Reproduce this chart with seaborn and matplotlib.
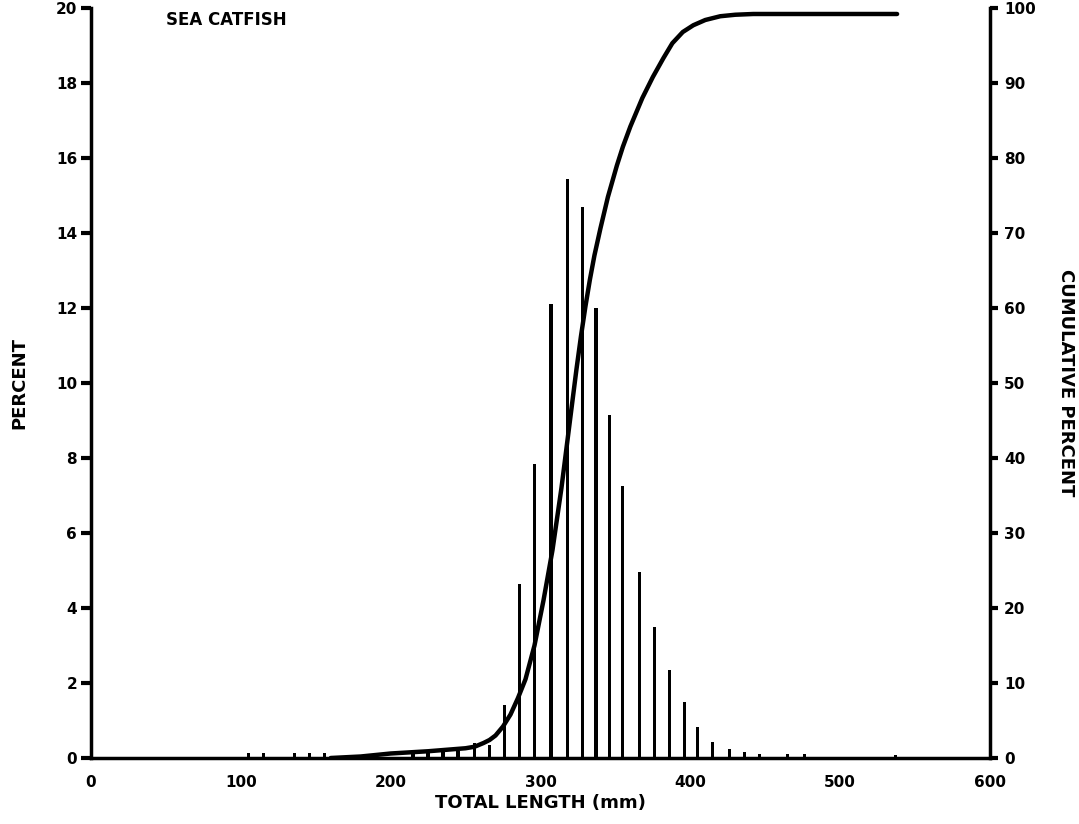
import numpy as np
import pandas as pd
import matplotlib
matplotlib.use("Agg")
import matplotlib.pyplot as plt
import seaborn as sns

# Length-frequency bars (total length mm, percent)
lengths = [105, 115, 136, 146, 156, 215, 225, 235, 245, 256, 266, 276, 286, 296,
           307, 318, 328, 337, 346, 355, 366, 376, 386, 396, 405, 415, 426,
           436, 446, 465, 476, 537]
percent = [0.12, 0.12, 0.12, 0.12, 0.12, 0.1, 0.12, 0.15, 0.18, 0.4, 0.35, 1.4, 4.65, 7.85,
           12.1, 15.45, 14.7, 12.0, 9.15, 7.25, 4.95, 3.5, 2.35, 1.5, 0.82, 0.42, 0.25,
           0.15, 0.1, 0.1, 0.1, 0.08]

# Cumulative percent curve
cum_len = [160, 180, 200, 225, 250, 256, 262, 266, 270, 275, 280, 285, 290, 296,
           302, 308, 314, 320, 324, 327, 330, 333, 336, 340, 345, 351, 355, 360, 368, 375,
           382, 388, 395, 402, 410, 420, 430, 442, 538]
cum_pct = [0.0, 0.2, 0.6, 0.9, 1.3, 1.5, 2.0, 2.4, 3.0, 4.2, 5.8, 8.0, 10.5, 15.0,
           21.0, 27.7, 36.0, 45.5, 51.8, 56.2, 60.2, 63.8, 67.0, 70.6, 74.8, 79.0, 81.5, 84.2, 88.0, 90.8,
           93.3, 95.3, 96.8, 97.7, 98.4, 98.9, 99.1, 99.2, 99.2]

x_ticks = [0, 100, 200, 300, 400, 500, 600]
left_ticks = [0, 2, 4, 6, 8, 10, 12, 14, 16, 18, 20]
right_ticks = [0, 10, 20, 30, 40, 50, 60, 70, 80, 90, 100]

sns.set_style("white")
plt.rcParams['font.family'] = ['DejaVu Sans']
plt.rcParams['font.weight'] = 'bold'
for k in ('text.color', 'axes.labelcolor', 'xtick.color', 'ytick.color'):
    plt.rcParams[k] = 'black'

fig = plt.figure(figsize=(10.79, 8.24), dpi=100)
ax = fig.add_axes([0.0843, 0.0801, 0.8332, 0.9102])

bars = pd.DataFrame({"length": lengths, "percent": percent})
sns.barplot(data=bars, x="length", y="percent", native_scale=True, color="black",
            width=0.24, ax=ax, edgecolor="black", linewidth=0.0, saturation=1)

ax.set_xlim(0, 600)
ax.set_ylim(0, 20)
ax.set_xticks(x_ticks)
ax.set_yticks(left_ticks)
ax.set_xticklabels([str(t) for t in x_ticks], fontsize=11, fontweight='bold')
ax.set_yticklabels([str(t) for t in left_ticks], fontsize=11, fontweight='bold')
ax.set_xlabel("TOTAL LENGTH (mm)", fontsize=13, fontweight='bold', labelpad=3)
ax.set_ylabel("PERCENT", fontsize=13, fontweight='bold', labelpad=20)
ax.tick_params(axis='both', direction='out', length=7, width=3, color='black',
               labelcolor='black', pad=3)
ax.tick_params(axis='x', pad=5)

ax2 = ax.twinx()
curve = pd.DataFrame({"length": cum_len, "cum": cum_pct})
sns.lineplot(data=curve, x="length", y="cum", color="black", linewidth=3.2, ax=ax2)
ax2.set_ylim(0, 100)
ax2.set_xlim(0, 600)
ax2.set_yticks(right_ticks)
ax2.set_yticklabels([str(t) for t in right_ticks], fontsize=11, fontweight='bold')
ax2.set_ylabel("CUMULATIVE PERCENT", fontsize=13, fontweight='bold', rotation=270, labelpad=28)
ax2.tick_params(axis='y', direction='out', length=6, width=3, color='black',
                labelcolor='black', pad=4)

for a in (ax, ax2):
    a.spines['top'].set_visible(False)
    for s in ('left', 'bottom', 'right'):
        a.spines[s].set_linewidth(2.5)
        a.spines[s].set_color('black')
ax.spines['right'].set_visible(False)
ax2.spines['left'].set_visible(False)
ax2.spines['bottom'].set_visible(False)

ax.text(0.083, 0.996, "SEA CATFISH", transform=ax.transAxes, fontsize=12,
        fontweight='bold', va='top', ha='left', color='black')

fig.savefig("out.png", dpi=100, facecolor="white")
